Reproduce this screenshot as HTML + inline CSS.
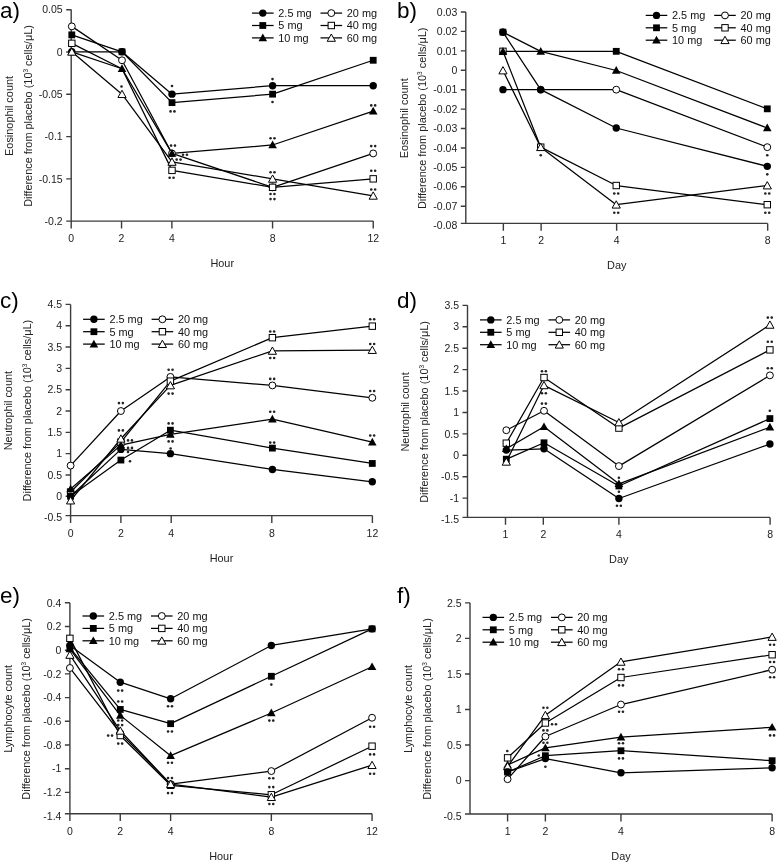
<!DOCTYPE html>
<html><head><meta charset="utf-8"><title>Figure</title>
<style>
html,body{margin:0;padding:0;background:#fff;}
svg{display:block;font-family:"Liberation Sans",sans-serif;will-change:transform;}
</style></head><body>
<svg width="778" height="863" viewBox="0 0 778 863">
<rect width="778" height="863" fill="#fff"/>
<text x="0" y="17.5" text-anchor="start" font-size="22.5">a)</text>
<path d="M71.2 9.6V221.1M66.2 221.1H373.24" fill="none" stroke="#3c3c3c" stroke-width="1.4"/>
<path d="M66.2 9.7H71.2M66.2 52H71.2M66.2 94.3H71.2M66.2 136.6H71.2M66.2 178.9H71.2M71.2 221.1V228.5M121.54 221.1V228.5M171.88 221.1V228.5M272.56 221.1V228.5M373.24 221.1V228.5" fill="none" stroke="#3c3c3c" stroke-width="1.4"/>
<text x="62.7" y="13.4" text-anchor="end" font-size="10.5" fill="#222">0.05</text>
<text x="62.7" y="55.7" text-anchor="end" font-size="10.5" fill="#222">0</text>
<text x="62.7" y="98" text-anchor="end" font-size="10.5" fill="#222">-0.05</text>
<text x="62.7" y="140.3" text-anchor="end" font-size="10.5" fill="#222">-0.1</text>
<text x="62.7" y="182.6" text-anchor="end" font-size="10.5" fill="#222">-0.15</text>
<text x="62.7" y="224.9" text-anchor="end" font-size="10.5" fill="#222">-0.2</text>
<text x="71.2" y="242.1" text-anchor="middle" font-size="10.5" fill="#222">0</text>
<text x="121.54" y="242.1" text-anchor="middle" font-size="10.5" fill="#222">2</text>
<text x="171.88" y="242.1" text-anchor="middle" font-size="10.5" fill="#222">4</text>
<text x="272.56" y="242.1" text-anchor="middle" font-size="10.5" fill="#222">8</text>
<text x="373.24" y="242.1" text-anchor="middle" font-size="10.5" fill="#222">12</text>
<text x="222.22" y="267.1" text-anchor="middle" font-size="10.9" fill="#222">Hour</text>
<text transform="translate(12.9 115.95) rotate(-90)" text-anchor="middle" font-size="10.9" fill="#222">Eosinophil count</text>
<text transform="translate(31.7 115.95) rotate(-90)" text-anchor="middle" font-size="10.9" fill="#222">Difference from placebo (10<tspan font-size="6.5" dy="-4">3</tspan><tspan dy="4"> cells/&#956;L)</tspan></text>
<polyline points="71.8,51.8 122,51.8 172,94.15 272.6,85.68 373.2,85.68" fill="none" stroke="#000" stroke-width="1.25" stroke-linejoin="round"/>
<polyline points="71.8,34.86 122,51.8 172,102.62 272.6,94.15 373.2,60.27" fill="none" stroke="#000" stroke-width="1.25" stroke-linejoin="round"/>
<polyline points="71.8,51.8 122,68.74 172,153.44 272.6,144.97 373.2,111.09" fill="none" stroke="#000" stroke-width="1.25" stroke-linejoin="round"/>
<polyline points="71.8,26.39 122,60.27 172,153.44 272.6,187.32 373.2,153.44" fill="none" stroke="#000" stroke-width="1.25" stroke-linejoin="round"/>
<polyline points="71.8,43.33 122,68.74 172,170.38 272.6,187.32 373.2,178.85" fill="none" stroke="#000" stroke-width="1.25" stroke-linejoin="round"/>
<polyline points="71.8,51.8 122,94.15 172,161.91 272.6,178.85 373.2,195.79" fill="none" stroke="#000" stroke-width="1.25" stroke-linejoin="round"/>
<circle cx="71.8" cy="26.39" r="3.45" fill="#fff" stroke="#000" stroke-width="1"/>
<circle cx="122" cy="60.27" r="3.45" fill="#fff" stroke="#000" stroke-width="1"/>
<circle cx="172" cy="153.44" r="3.45" fill="#fff" stroke="#000" stroke-width="1"/>
<circle cx="272.6" cy="187.32" r="3.45" fill="#fff" stroke="#000" stroke-width="1"/>
<circle cx="373.2" cy="153.44" r="3.45" fill="#fff" stroke="#000" stroke-width="1"/>
<rect x="68.6" y="40.13" width="6.4" height="6.4" fill="#fff" stroke="#000" stroke-width="1"/>
<rect x="168.8" y="167.18" width="6.4" height="6.4" fill="#fff" stroke="#000" stroke-width="1"/>
<rect x="269.4" y="184.12" width="6.4" height="6.4" fill="#fff" stroke="#000" stroke-width="1"/>
<rect x="370" y="175.65" width="6.4" height="6.4" fill="#fff" stroke="#000" stroke-width="1"/>
<circle cx="71.8" cy="51.8" r="3.7" fill="#000"/>
<circle cx="122" cy="51.8" r="3.7" fill="#000"/>
<circle cx="172" cy="94.15" r="3.7" fill="#000"/>
<circle cx="272.6" cy="85.68" r="3.7" fill="#000"/>
<circle cx="373.2" cy="85.68" r="3.7" fill="#000"/>
<rect x="68.4" y="31.46" width="6.8" height="6.8" fill="#000"/>
<rect x="118.6" y="48.4" width="6.8" height="6.8" fill="#000"/>
<rect x="168.6" y="99.22" width="6.8" height="6.8" fill="#000"/>
<rect x="269.2" y="90.75" width="6.8" height="6.8" fill="#000"/>
<rect x="369.8" y="56.87" width="6.8" height="6.8" fill="#000"/>
<polygon points="71.8,47.4 76.1,55.1 67.5,55.1" fill="#000"/>
<polygon points="122,64.34 126.3,72.04 117.7,72.04" fill="#000"/>
<polygon points="172,149.04 176.3,156.74 167.7,156.74" fill="#000"/>
<polygon points="272.6,140.57 276.9,148.27 268.3,148.27" fill="#000"/>
<polygon points="373.2,106.69 377.5,114.39 368.9,114.39" fill="#000"/>
<polygon points="71.8,47.9 75.9,55.2 67.7,55.2" fill="#fff" stroke="#000" stroke-width="1" stroke-linejoin="miter"/>
<polygon points="122,90.25 126.1,97.55 117.9,97.55" fill="#fff" stroke="#000" stroke-width="1" stroke-linejoin="miter"/>
<polygon points="172,158.01 176.1,165.31 167.9,165.31" fill="#fff" stroke="#000" stroke-width="1" stroke-linejoin="miter"/>
<polygon points="272.6,174.95 276.7,182.25 268.5,182.25" fill="#fff" stroke="#000" stroke-width="1" stroke-linejoin="miter"/>
<polygon points="373.2,191.89 377.3,199.19 369.1,199.19" fill="#fff" stroke="#000" stroke-width="1" stroke-linejoin="miter"/>
<circle cx="172" cy="86" r="1.3" fill="#222"/>
<circle cx="170.55" cy="111.4" r="1.3" fill="#222"/>
<circle cx="174.45" cy="111.4" r="1.3" fill="#222"/>
<circle cx="171.05" cy="145.6" r="1.3" fill="#222"/>
<circle cx="174.95" cy="145.6" r="1.3" fill="#222"/>
<circle cx="183.05" cy="154.7" r="1.3" fill="#222"/>
<circle cx="186.95" cy="154.7" r="1.3" fill="#222"/>
<circle cx="176.65" cy="159.6" r="1.3" fill="#222"/>
<circle cx="180.55" cy="159.6" r="1.3" fill="#222"/>
<circle cx="169.65" cy="177.8" r="1.3" fill="#222"/>
<circle cx="173.55" cy="177.8" r="1.3" fill="#222"/>
<circle cx="272.5" cy="79.1" r="1.3" fill="#222"/>
<circle cx="272.5" cy="102" r="1.3" fill="#222"/>
<circle cx="270.55" cy="138.2" r="1.3" fill="#222"/>
<circle cx="274.45" cy="138.2" r="1.3" fill="#222"/>
<circle cx="270.55" cy="172.2" r="1.3" fill="#222"/>
<circle cx="274.45" cy="172.2" r="1.3" fill="#222"/>
<circle cx="270.55" cy="194" r="1.3" fill="#222"/>
<circle cx="274.45" cy="194" r="1.3" fill="#222"/>
<circle cx="270.55" cy="199.1" r="1.3" fill="#222"/>
<circle cx="274.45" cy="199.1" r="1.3" fill="#222"/>
<circle cx="371.25" cy="105.4" r="1.3" fill="#222"/>
<circle cx="375.15" cy="105.4" r="1.3" fill="#222"/>
<circle cx="371.25" cy="146.1" r="1.3" fill="#222"/>
<circle cx="375.15" cy="146.1" r="1.3" fill="#222"/>
<circle cx="371.25" cy="170.7" r="1.3" fill="#222"/>
<circle cx="375.15" cy="170.7" r="1.3" fill="#222"/>
<circle cx="371.25" cy="189.5" r="1.3" fill="#222"/>
<circle cx="375.15" cy="189.5" r="1.3" fill="#222"/>
<circle cx="121.5" cy="86.5" r="1.3" fill="#222"/>
<path d="M252 13.1H273.6" stroke="#000" stroke-width="1.25"/>
<circle cx="262.8" cy="13.1" r="3.7" fill="#000"/>
<text x="278.3" y="17" text-anchor="start" font-size="10.9" fill="#111">2.5 mg</text>
<path d="M252 25.5H273.6" stroke="#000" stroke-width="1.25"/>
<rect x="259.4" y="22.1" width="6.8" height="6.8" fill="#000"/>
<text x="278.3" y="29.4" text-anchor="start" font-size="10.9" fill="#111">5 mg</text>
<path d="M252 37.9H273.6" stroke="#000" stroke-width="1.25"/>
<polygon points="262.8,33.5 267.1,41.2 258.5,41.2" fill="#000"/>
<text x="278.3" y="41.8" text-anchor="start" font-size="10.9" fill="#111">10 mg</text>
<path d="M320.5 13.1H342.1" stroke="#000" stroke-width="1.25"/>
<circle cx="331.3" cy="13.1" r="3.45" fill="#fff" stroke="#000" stroke-width="1"/>
<text x="346.8" y="17" text-anchor="start" font-size="10.9" fill="#111">20 mg</text>
<path d="M320.5 25.5H342.1" stroke="#000" stroke-width="1.25"/>
<rect x="328.1" y="22.3" width="6.4" height="6.4" fill="#fff" stroke="#000" stroke-width="1"/>
<text x="346.8" y="29.4" text-anchor="start" font-size="10.9" fill="#111">40 mg</text>
<path d="M320.5 37.9H342.1" stroke="#000" stroke-width="1.25"/>
<polygon points="331.3,34 335.4,41.3 327.2,41.3" fill="#fff" stroke="#000" stroke-width="1" stroke-linejoin="miter"/>
<text x="346.8" y="41.8" text-anchor="start" font-size="10.9" fill="#111">60 mg</text>
<text x="397" y="18.2" text-anchor="start" font-size="22.5">b)</text>
<path d="M465.8 12V223.4M460.8 223.4H767.68" fill="none" stroke="#3c3c3c" stroke-width="1.4"/>
<path d="M460.8 12H465.8M460.8 31.42H465.8M460.8 50.84H465.8M460.8 70.26H465.8M460.8 89.68H465.8M460.8 109.1H465.8M460.8 128.52H465.8M460.8 147.94H465.8M460.8 167.36H465.8M460.8 186.78H465.8M460.8 206.2H465.8M503.36 223.4V230.8M541.12 223.4V230.8M616.64 223.4V230.8M767.68 223.4V230.8" fill="none" stroke="#3c3c3c" stroke-width="1.4"/>
<text x="457.3" y="15.7" text-anchor="end" font-size="10.5" fill="#222">0.03</text>
<text x="457.3" y="35.12" text-anchor="end" font-size="10.5" fill="#222">0.02</text>
<text x="457.3" y="54.54" text-anchor="end" font-size="10.5" fill="#222">0.01</text>
<text x="457.3" y="73.96" text-anchor="end" font-size="10.5" fill="#222">0</text>
<text x="457.3" y="93.38" text-anchor="end" font-size="10.5" fill="#222">-0.01</text>
<text x="457.3" y="112.8" text-anchor="end" font-size="10.5" fill="#222">-0.02</text>
<text x="457.3" y="132.22" text-anchor="end" font-size="10.5" fill="#222">-0.03</text>
<text x="457.3" y="151.64" text-anchor="end" font-size="10.5" fill="#222">-0.04</text>
<text x="457.3" y="171.06" text-anchor="end" font-size="10.5" fill="#222">-0.05</text>
<text x="457.3" y="190.48" text-anchor="end" font-size="10.5" fill="#222">-0.06</text>
<text x="457.3" y="209.9" text-anchor="end" font-size="10.5" fill="#222">-0.07</text>
<text x="457.3" y="229.32" text-anchor="end" font-size="10.5" fill="#222">-0.08</text>
<text x="503.36" y="244.4" text-anchor="middle" font-size="10.5" fill="#222">1</text>
<text x="541.12" y="244.4" text-anchor="middle" font-size="10.5" fill="#222">2</text>
<text x="616.64" y="244.4" text-anchor="middle" font-size="10.5" fill="#222">4</text>
<text x="767.68" y="244.4" text-anchor="middle" font-size="10.5" fill="#222">8</text>
<text x="616.74" y="269.4" text-anchor="middle" font-size="10.9" fill="#222">Day</text>
<text transform="translate(407.5 118.3) rotate(-90)" text-anchor="middle" font-size="10.9" fill="#222">Eosinophil count</text>
<text transform="translate(426.3 118.3) rotate(-90)" text-anchor="middle" font-size="10.9" fill="#222">Difference from placebo (10<tspan font-size="6.5" dy="-4">3</tspan><tspan dy="4"> cells/&#956;L)</tspan></text>
<polyline points="502.96,89.67 540.72,89.67 616.24,128.01 767.28,166.35" fill="none" stroke="#000" stroke-width="1.25" stroke-linejoin="round"/>
<polyline points="502.96,32.16 540.72,51.33 616.24,51.33 767.28,108.84" fill="none" stroke="#000" stroke-width="1.25" stroke-linejoin="round"/>
<polyline points="502.96,51.33 540.72,51.33 616.24,70.5 767.28,128.01" fill="none" stroke="#000" stroke-width="1.25" stroke-linejoin="round"/>
<polyline points="502.96,32.16 540.72,89.67 616.24,89.67 767.28,147.18" fill="none" stroke="#000" stroke-width="1.25" stroke-linejoin="round"/>
<polyline points="502.96,51.33 540.72,147.18 616.24,185.52 767.28,204.69" fill="none" stroke="#000" stroke-width="1.25" stroke-linejoin="round"/>
<polyline points="502.96,70.5 540.72,147.18 616.24,204.69 767.28,185.52" fill="none" stroke="#000" stroke-width="1.25" stroke-linejoin="round"/>
<circle cx="502.96" cy="32.16" r="3.45" fill="#fff" stroke="#000" stroke-width="1"/>
<circle cx="540.72" cy="89.67" r="3.45" fill="#fff" stroke="#000" stroke-width="1"/>
<circle cx="616.24" cy="89.67" r="3.45" fill="#fff" stroke="#000" stroke-width="1"/>
<circle cx="767.28" cy="147.18" r="3.45" fill="#fff" stroke="#000" stroke-width="1"/>
<rect x="499.76" y="48.13" width="6.4" height="6.4" fill="#fff" stroke="#000" stroke-width="1"/>
<rect x="537.52" y="143.98" width="6.4" height="6.4" fill="#fff" stroke="#000" stroke-width="1"/>
<rect x="613.04" y="182.32" width="6.4" height="6.4" fill="#fff" stroke="#000" stroke-width="1"/>
<rect x="764.08" y="201.49" width="6.4" height="6.4" fill="#fff" stroke="#000" stroke-width="1"/>
<circle cx="502.96" cy="89.67" r="3.7" fill="#000"/>
<circle cx="540.72" cy="89.67" r="3.7" fill="#000"/>
<circle cx="616.24" cy="128.01" r="3.7" fill="#000"/>
<circle cx="767.28" cy="166.35" r="3.7" fill="#000"/>
<rect x="499.56" y="28.76" width="6.8" height="6.8" fill="#000"/>
<rect x="612.84" y="47.93" width="6.8" height="6.8" fill="#000"/>
<rect x="763.88" y="105.44" width="6.8" height="6.8" fill="#000"/>
<polygon points="502.96,46.93 507.26,54.63 498.66,54.63" fill="#000"/>
<polygon points="540.72,46.93 545.02,54.63 536.42,54.63" fill="#000"/>
<polygon points="616.24,66.1 620.54,73.8 611.94,73.8" fill="#000"/>
<polygon points="767.28,123.61 771.58,131.31 762.98,131.31" fill="#000"/>
<polygon points="502.96,66.6 507.06,73.9 498.86,73.9" fill="#fff" stroke="#000" stroke-width="1" stroke-linejoin="miter"/>
<polygon points="540.72,143.28 544.82,150.58 536.62,150.58" fill="#fff" stroke="#000" stroke-width="1" stroke-linejoin="miter"/>
<polygon points="616.24,200.79 620.34,208.09 612.14,208.09" fill="#fff" stroke="#000" stroke-width="1" stroke-linejoin="miter"/>
<polygon points="767.28,181.62 771.38,188.92 763.18,188.92" fill="#fff" stroke="#000" stroke-width="1" stroke-linejoin="miter"/>
<circle cx="540.72" cy="155.18" r="1.3" fill="#222"/>
<circle cx="614.29" cy="193.52" r="1.3" fill="#222"/>
<circle cx="618.19" cy="193.52" r="1.3" fill="#222"/>
<circle cx="614.29" cy="212.69" r="1.3" fill="#222"/>
<circle cx="618.19" cy="212.69" r="1.3" fill="#222"/>
<circle cx="767.28" cy="155.18" r="1.3" fill="#222"/>
<circle cx="767.28" cy="174.35" r="1.3" fill="#222"/>
<circle cx="765.33" cy="193.52" r="1.3" fill="#222"/>
<circle cx="769.23" cy="193.52" r="1.3" fill="#222"/>
<circle cx="765.33" cy="212.69" r="1.3" fill="#222"/>
<circle cx="769.23" cy="212.69" r="1.3" fill="#222"/>
<path d="M645.7 15.4H667.3" stroke="#000" stroke-width="1.25"/>
<circle cx="656.5" cy="15.4" r="3.7" fill="#000"/>
<text x="672" y="19.3" text-anchor="start" font-size="10.9" fill="#111">2.5 mg</text>
<path d="M645.7 27.8H667.3" stroke="#000" stroke-width="1.25"/>
<rect x="653.1" y="24.4" width="6.8" height="6.8" fill="#000"/>
<text x="672" y="31.7" text-anchor="start" font-size="10.9" fill="#111">5 mg</text>
<path d="M645.7 40.2H667.3" stroke="#000" stroke-width="1.25"/>
<polygon points="656.5,35.8 660.8,43.5 652.2,43.5" fill="#000"/>
<text x="672" y="44.1" text-anchor="start" font-size="10.9" fill="#111">10 mg</text>
<path d="M714.2 15.4H735.8" stroke="#000" stroke-width="1.25"/>
<circle cx="725" cy="15.4" r="3.45" fill="#fff" stroke="#000" stroke-width="1"/>
<text x="740.5" y="19.3" text-anchor="start" font-size="10.9" fill="#111">20 mg</text>
<path d="M714.2 27.8H735.8" stroke="#000" stroke-width="1.25"/>
<rect x="721.8" y="24.6" width="6.4" height="6.4" fill="#fff" stroke="#000" stroke-width="1"/>
<text x="740.5" y="31.7" text-anchor="start" font-size="10.9" fill="#111">40 mg</text>
<path d="M714.2 40.2H735.8" stroke="#000" stroke-width="1.25"/>
<polygon points="725,36.3 729.1,43.6 720.9,43.6" fill="#fff" stroke="#000" stroke-width="1" stroke-linejoin="miter"/>
<text x="740.5" y="44.1" text-anchor="start" font-size="10.9" fill="#111">60 mg</text>
<text x="0" y="308" text-anchor="start" font-size="22.5">c)</text>
<path d="M70.6 304.4V515.6M65.6 515.6H372.4" fill="none" stroke="#3c3c3c" stroke-width="1.4"/>
<path d="M65.6 304.42H70.6M65.6 325.74H70.6M65.6 347.06H70.6M65.6 368.38H70.6M65.6 389.7H70.6M65.6 411.02H70.6M65.6 432.34H70.6M65.6 453.66H70.6M65.6 474.98H70.6M65.6 496.3H70.6M70.6 515.6V523M120.9 515.6V523M171.2 515.6V523M271.8 515.6V523M372.4 515.6V523" fill="none" stroke="#3c3c3c" stroke-width="1.4"/>
<text x="62.1" y="308.12" text-anchor="end" font-size="10.5" fill="#222">4.5</text>
<text x="62.1" y="329.44" text-anchor="end" font-size="10.5" fill="#222">4</text>
<text x="62.1" y="350.76" text-anchor="end" font-size="10.5" fill="#222">3.5</text>
<text x="62.1" y="372.08" text-anchor="end" font-size="10.5" fill="#222">3</text>
<text x="62.1" y="393.4" text-anchor="end" font-size="10.5" fill="#222">2.5</text>
<text x="62.1" y="414.72" text-anchor="end" font-size="10.5" fill="#222">2</text>
<text x="62.1" y="436.04" text-anchor="end" font-size="10.5" fill="#222">1.5</text>
<text x="62.1" y="457.36" text-anchor="end" font-size="10.5" fill="#222">1</text>
<text x="62.1" y="478.68" text-anchor="end" font-size="10.5" fill="#222">0.5</text>
<text x="62.1" y="500" text-anchor="end" font-size="10.5" fill="#222">0</text>
<text x="62.1" y="521.32" text-anchor="end" font-size="10.5" fill="#222">-0.5</text>
<text x="70.6" y="536.6" text-anchor="middle" font-size="10.5" fill="#222">0</text>
<text x="120.9" y="536.6" text-anchor="middle" font-size="10.5" fill="#222">2</text>
<text x="171.2" y="536.6" text-anchor="middle" font-size="10.5" fill="#222">4</text>
<text x="271.8" y="536.6" text-anchor="middle" font-size="10.5" fill="#222">8</text>
<text x="372.4" y="536.6" text-anchor="middle" font-size="10.5" fill="#222">12</text>
<text x="221.5" y="561.6" text-anchor="middle" font-size="10.9" fill="#222">Hour</text>
<text transform="translate(12.3 410.6) rotate(-90)" text-anchor="middle" font-size="10.9" fill="#222">Neutrophil count</text>
<text transform="translate(31.1 410.6) rotate(-90)" text-anchor="middle" font-size="10.9" fill="#222">Difference from placebo (10<tspan font-size="6.5" dy="-4">3</tspan><tspan dy="4"> cells/&#956;L)</tspan></text>
<polyline points="70.6,496.3 120.9,449.4 170.4,453.66 272.4,469.44 372.3,481.8" fill="none" stroke="#000" stroke-width="1.25" stroke-linejoin="round"/>
<polyline points="70.6,496.3 120.9,460.06 170.4,430.21 272.4,448.12 372.3,463.47" fill="none" stroke="#000" stroke-width="1.25" stroke-linejoin="round"/>
<polyline points="70.6,489.05 120.9,445.13 170.4,434.47 272.4,419.12 372.3,442.15" fill="none" stroke="#000" stroke-width="1.25" stroke-linejoin="round"/>
<polyline points="70.6,465.6 120.9,411.02 170.4,376.91 272.4,385.44 372.3,397.8" fill="none" stroke="#000" stroke-width="1.25" stroke-linejoin="round"/>
<polyline points="70.6,492.04 120.9,442.15 170.4,381.17 272.4,337.68 372.3,326.17" fill="none" stroke="#000" stroke-width="1.25" stroke-linejoin="round"/>
<polyline points="70.6,500.56 120.9,438.74 170.4,385.44 272.4,350.9 372.3,350.04" fill="none" stroke="#000" stroke-width="1.25" stroke-linejoin="round"/>
<circle cx="70.6" cy="465.6" r="3.45" fill="#fff" stroke="#000" stroke-width="1"/>
<circle cx="120.9" cy="411.02" r="3.45" fill="#fff" stroke="#000" stroke-width="1"/>
<circle cx="170.4" cy="376.91" r="3.45" fill="#fff" stroke="#000" stroke-width="1"/>
<circle cx="272.4" cy="385.44" r="3.45" fill="#fff" stroke="#000" stroke-width="1"/>
<circle cx="372.3" cy="397.8" r="3.45" fill="#fff" stroke="#000" stroke-width="1"/>
<rect x="67.4" y="488.84" width="6.4" height="6.4" fill="#fff" stroke="#000" stroke-width="1"/>
<rect x="117.7" y="438.95" width="6.4" height="6.4" fill="#fff" stroke="#000" stroke-width="1"/>
<rect x="167.2" y="377.97" width="6.4" height="6.4" fill="#fff" stroke="#000" stroke-width="1"/>
<rect x="269.2" y="334.48" width="6.4" height="6.4" fill="#fff" stroke="#000" stroke-width="1"/>
<rect x="369.1" y="322.97" width="6.4" height="6.4" fill="#fff" stroke="#000" stroke-width="1"/>
<polygon points="70.6,484.65 74.9,492.35 66.3,492.35" fill="#000"/>
<polygon points="120.9,440.73 125.2,448.43 116.6,448.43" fill="#000"/>
<polygon points="170.4,430.07 174.7,437.77 166.1,437.77" fill="#000"/>
<polygon points="272.4,414.72 276.7,422.42 268.1,422.42" fill="#000"/>
<polygon points="372.3,437.75 376.6,445.45 368,445.45" fill="#000"/>
<circle cx="70.6" cy="496.3" r="3.7" fill="#000"/>
<circle cx="120.9" cy="449.4" r="3.7" fill="#000"/>
<circle cx="170.4" cy="453.66" r="3.7" fill="#000"/>
<circle cx="272.4" cy="469.44" r="3.7" fill="#000"/>
<circle cx="372.3" cy="481.8" r="3.7" fill="#000"/>
<rect x="67.2" y="492.9" width="6.8" height="6.8" fill="#000"/>
<rect x="117.5" y="456.66" width="6.8" height="6.8" fill="#000"/>
<rect x="167" y="426.81" width="6.8" height="6.8" fill="#000"/>
<rect x="269" y="444.72" width="6.8" height="6.8" fill="#000"/>
<rect x="368.9" y="460.07" width="6.8" height="6.8" fill="#000"/>
<polygon points="70.6,496.66 74.7,503.96 66.5,503.96" fill="#fff" stroke="#000" stroke-width="1" stroke-linejoin="miter"/>
<polygon points="120.9,434.84 125,442.14 116.8,442.14" fill="#fff" stroke="#000" stroke-width="1" stroke-linejoin="miter"/>
<polygon points="170.4,381.54 174.5,388.84 166.3,388.84" fill="#fff" stroke="#000" stroke-width="1" stroke-linejoin="miter"/>
<polygon points="272.4,347 276.5,354.3 268.3,354.3" fill="#fff" stroke="#000" stroke-width="1" stroke-linejoin="miter"/>
<polygon points="372.3,346.14 376.4,353.44 368.2,353.44" fill="#fff" stroke="#000" stroke-width="1" stroke-linejoin="miter"/>
<circle cx="118.95" cy="403.1" r="1.3" fill="#222"/>
<circle cx="122.85" cy="403.1" r="1.3" fill="#222"/>
<circle cx="118.95" cy="430.4" r="1.3" fill="#222"/>
<circle cx="122.85" cy="430.4" r="1.3" fill="#222"/>
<circle cx="128.05" cy="440.4" r="1.3" fill="#222"/>
<circle cx="131.95" cy="440.4" r="1.3" fill="#222"/>
<circle cx="128.05" cy="447.9" r="1.3" fill="#222"/>
<circle cx="131.95" cy="447.9" r="1.3" fill="#222"/>
<circle cx="128" cy="452" r="1.3" fill="#222"/>
<circle cx="130" cy="461.3" r="1.3" fill="#222"/>
<circle cx="168.65" cy="369.8" r="1.3" fill="#222"/>
<circle cx="172.55" cy="369.8" r="1.3" fill="#222"/>
<circle cx="168.65" cy="393.6" r="1.3" fill="#222"/>
<circle cx="172.55" cy="393.6" r="1.3" fill="#222"/>
<circle cx="168.65" cy="423.4" r="1.3" fill="#222"/>
<circle cx="172.55" cy="423.4" r="1.3" fill="#222"/>
<circle cx="168.65" cy="441.4" r="1.3" fill="#222"/>
<circle cx="172.55" cy="441.4" r="1.3" fill="#222"/>
<circle cx="170.6" cy="448.5" r="1.3" fill="#222"/>
<circle cx="270.25" cy="331.5" r="1.3" fill="#222"/>
<circle cx="274.15" cy="331.5" r="1.3" fill="#222"/>
<circle cx="270.25" cy="358" r="1.3" fill="#222"/>
<circle cx="274.15" cy="358" r="1.3" fill="#222"/>
<circle cx="270.25" cy="378.9" r="1.3" fill="#222"/>
<circle cx="274.15" cy="378.9" r="1.3" fill="#222"/>
<circle cx="270.25" cy="411.7" r="1.3" fill="#222"/>
<circle cx="274.15" cy="411.7" r="1.3" fill="#222"/>
<circle cx="270.25" cy="442.6" r="1.3" fill="#222"/>
<circle cx="274.15" cy="442.6" r="1.3" fill="#222"/>
<circle cx="370.25" cy="319.3" r="1.3" fill="#222"/>
<circle cx="374.15" cy="319.3" r="1.3" fill="#222"/>
<circle cx="370.25" cy="344" r="1.3" fill="#222"/>
<circle cx="374.15" cy="344" r="1.3" fill="#222"/>
<circle cx="370.25" cy="391" r="1.3" fill="#222"/>
<circle cx="374.15" cy="391" r="1.3" fill="#222"/>
<circle cx="370.25" cy="435.5" r="1.3" fill="#222"/>
<circle cx="374.15" cy="435.5" r="1.3" fill="#222"/>
<path d="M83.1 319.3H104.7" stroke="#000" stroke-width="1.25"/>
<circle cx="93.9" cy="319.3" r="3.7" fill="#000"/>
<text x="109.4" y="323.2" text-anchor="start" font-size="10.9" fill="#111">2.5 mg</text>
<path d="M83.1 331.7H104.7" stroke="#000" stroke-width="1.25"/>
<rect x="90.5" y="328.3" width="6.8" height="6.8" fill="#000"/>
<text x="109.4" y="335.6" text-anchor="start" font-size="10.9" fill="#111">5 mg</text>
<path d="M83.1 344.1H104.7" stroke="#000" stroke-width="1.25"/>
<polygon points="93.9,339.7 98.2,347.4 89.6,347.4" fill="#000"/>
<text x="109.4" y="348" text-anchor="start" font-size="10.9" fill="#111">10 mg</text>
<path d="M151.6 319.3H173.2" stroke="#000" stroke-width="1.25"/>
<circle cx="162.4" cy="319.3" r="3.45" fill="#fff" stroke="#000" stroke-width="1"/>
<text x="177.9" y="323.2" text-anchor="start" font-size="10.9" fill="#111">20 mg</text>
<path d="M151.6 331.7H173.2" stroke="#000" stroke-width="1.25"/>
<rect x="159.2" y="328.5" width="6.4" height="6.4" fill="#fff" stroke="#000" stroke-width="1"/>
<text x="177.9" y="335.6" text-anchor="start" font-size="10.9" fill="#111">40 mg</text>
<path d="M151.6 344.1H173.2" stroke="#000" stroke-width="1.25"/>
<polygon points="162.4,340.2 166.5,347.5 158.3,347.5" fill="#fff" stroke="#000" stroke-width="1" stroke-linejoin="miter"/>
<text x="177.9" y="348" text-anchor="start" font-size="10.9" fill="#111">60 mg</text>
<text x="397" y="308.2" text-anchor="start" font-size="22.5">d)</text>
<path d="M467.5 305.3V517.4M462.5 517.4H770.1" fill="none" stroke="#3c3c3c" stroke-width="1.4"/>
<path d="M462.5 305.33H467.5M462.5 326.75H467.5M462.5 348.18H467.5M462.5 369.6H467.5M462.5 391.02H467.5M462.5 412.45H467.5M462.5 433.88H467.5M462.5 455.3H467.5M462.5 476.73H467.5M462.5 498.15H467.5M505.5 517.4V524.8M543.3 517.4V524.8M618.9 517.4V524.8M770.1 517.4V524.8" fill="none" stroke="#3c3c3c" stroke-width="1.4"/>
<text x="459" y="309.03" text-anchor="end" font-size="10.5" fill="#222">3.5</text>
<text x="459" y="330.45" text-anchor="end" font-size="10.5" fill="#222">3</text>
<text x="459" y="351.88" text-anchor="end" font-size="10.5" fill="#222">2.5</text>
<text x="459" y="373.3" text-anchor="end" font-size="10.5" fill="#222">2</text>
<text x="459" y="394.72" text-anchor="end" font-size="10.5" fill="#222">1.5</text>
<text x="459" y="416.15" text-anchor="end" font-size="10.5" fill="#222">1</text>
<text x="459" y="437.57" text-anchor="end" font-size="10.5" fill="#222">0.5</text>
<text x="459" y="459" text-anchor="end" font-size="10.5" fill="#222">0</text>
<text x="459" y="480.43" text-anchor="end" font-size="10.5" fill="#222">-0.5</text>
<text x="459" y="501.85" text-anchor="end" font-size="10.5" fill="#222">-1</text>
<text x="459" y="523.28" text-anchor="end" font-size="10.5" fill="#222">-1.5</text>
<text x="505.5" y="538.4" text-anchor="middle" font-size="10.5" fill="#222">1</text>
<text x="543.3" y="538.4" text-anchor="middle" font-size="10.5" fill="#222">2</text>
<text x="618.9" y="538.4" text-anchor="middle" font-size="10.5" fill="#222">4</text>
<text x="770.1" y="538.4" text-anchor="middle" font-size="10.5" fill="#222">8</text>
<text x="618.8" y="563.4" text-anchor="middle" font-size="10.9" fill="#222">Day</text>
<text transform="translate(409.2 411.95) rotate(-90)" text-anchor="middle" font-size="10.9" fill="#222">Neutrophil count</text>
<text transform="translate(428 411.95) rotate(-90)" text-anchor="middle" font-size="10.9" fill="#222">Difference from placebo (10<tspan font-size="6.5" dy="-4">3</tspan><tspan dy="4"> cells/&#956;L)</tspan></text>
<polyline points="506.3,450.12 544,448.82 618.9,498.5 769.9,444.07" fill="none" stroke="#000" stroke-width="1.25" stroke-linejoin="round"/>
<polyline points="506.3,459.19 544,442.77 618.9,485.97 769.9,418.58" fill="none" stroke="#000" stroke-width="1.25" stroke-linejoin="round"/>
<polyline points="506.3,448.82 544,426.79 618.9,483.81 769.9,427.22" fill="none" stroke="#000" stroke-width="1.25" stroke-linejoin="round"/>
<polyline points="506.3,430.24 544,410.8 618.9,466.1 769.9,375.38" fill="none" stroke="#000" stroke-width="1.25" stroke-linejoin="round"/>
<polyline points="506.3,443.2 544,377.54 618.9,428.08 769.9,349.89" fill="none" stroke="#000" stroke-width="1.25" stroke-linejoin="round"/>
<polyline points="506.3,461.78 544,385.32 618.9,422.47 769.9,324.84" fill="none" stroke="#000" stroke-width="1.25" stroke-linejoin="round"/>
<circle cx="506.3" cy="430.24" r="3.45" fill="#fff" stroke="#000" stroke-width="1"/>
<circle cx="544" cy="410.8" r="3.45" fill="#fff" stroke="#000" stroke-width="1"/>
<circle cx="618.9" cy="466.1" r="3.45" fill="#fff" stroke="#000" stroke-width="1"/>
<circle cx="769.9" cy="375.38" r="3.45" fill="#fff" stroke="#000" stroke-width="1"/>
<rect x="503.1" y="440" width="6.4" height="6.4" fill="#fff" stroke="#000" stroke-width="1"/>
<rect x="540.8" y="374.34" width="6.4" height="6.4" fill="#fff" stroke="#000" stroke-width="1"/>
<rect x="615.7" y="424.88" width="6.4" height="6.4" fill="#fff" stroke="#000" stroke-width="1"/>
<rect x="766.7" y="346.69" width="6.4" height="6.4" fill="#fff" stroke="#000" stroke-width="1"/>
<polygon points="506.3,444.42 510.6,452.12 502,452.12" fill="#000"/>
<polygon points="544,422.39 548.3,430.09 539.7,430.09" fill="#000"/>
<polygon points="618.9,479.41 623.2,487.11 614.6,487.11" fill="#000"/>
<polygon points="769.9,422.82 774.2,430.52 765.6,430.52" fill="#000"/>
<circle cx="506.3" cy="450.12" r="3.7" fill="#000"/>
<circle cx="544" cy="448.82" r="3.7" fill="#000"/>
<circle cx="618.9" cy="498.5" r="3.7" fill="#000"/>
<circle cx="769.9" cy="444.07" r="3.7" fill="#000"/>
<rect x="502.9" y="455.79" width="6.8" height="6.8" fill="#000"/>
<rect x="540.6" y="439.37" width="6.8" height="6.8" fill="#000"/>
<rect x="615.5" y="482.57" width="6.8" height="6.8" fill="#000"/>
<rect x="766.5" y="415.18" width="6.8" height="6.8" fill="#000"/>
<polygon points="506.3,457.88 510.4,465.18 502.2,465.18" fill="#fff" stroke="#000" stroke-width="1" stroke-linejoin="miter"/>
<polygon points="544,381.42 548.1,388.72 539.9,388.72" fill="#fff" stroke="#000" stroke-width="1" stroke-linejoin="miter"/>
<polygon points="618.9,418.57 623,425.87 614.8,425.87" fill="#fff" stroke="#000" stroke-width="1" stroke-linejoin="miter"/>
<polygon points="769.9,320.94 774,328.24 765.8,328.24" fill="#fff" stroke="#000" stroke-width="1" stroke-linejoin="miter"/>
<circle cx="541.95" cy="371.2" r="1.3" fill="#222"/>
<circle cx="545.85" cy="371.2" r="1.3" fill="#222"/>
<circle cx="541.95" cy="393.2" r="1.3" fill="#222"/>
<circle cx="545.85" cy="393.2" r="1.3" fill="#222"/>
<circle cx="541.95" cy="403.6" r="1.3" fill="#222"/>
<circle cx="545.85" cy="403.6" r="1.3" fill="#222"/>
<circle cx="618.9" cy="477.7" r="1.3" fill="#222"/>
<circle cx="618.9" cy="491.7" r="1.3" fill="#222"/>
<circle cx="616.95" cy="505.7" r="1.3" fill="#222"/>
<circle cx="620.85" cy="505.7" r="1.3" fill="#222"/>
<circle cx="767.85" cy="317.6" r="1.3" fill="#222"/>
<circle cx="771.75" cy="317.6" r="1.3" fill="#222"/>
<circle cx="767.85" cy="341.7" r="1.3" fill="#222"/>
<circle cx="771.75" cy="341.7" r="1.3" fill="#222"/>
<circle cx="767.85" cy="368.2" r="1.3" fill="#222"/>
<circle cx="771.75" cy="368.2" r="1.3" fill="#222"/>
<circle cx="769.8" cy="410.8" r="1.3" fill="#222"/>
<path d="M480 319.9H501.6" stroke="#000" stroke-width="1.25"/>
<circle cx="490.8" cy="319.9" r="3.7" fill="#000"/>
<text x="506.3" y="323.8" text-anchor="start" font-size="10.9" fill="#111">2.5 mg</text>
<path d="M480 332.3H501.6" stroke="#000" stroke-width="1.25"/>
<rect x="487.4" y="328.9" width="6.8" height="6.8" fill="#000"/>
<text x="506.3" y="336.2" text-anchor="start" font-size="10.9" fill="#111">5 mg</text>
<path d="M480 344.7H501.6" stroke="#000" stroke-width="1.25"/>
<polygon points="490.8,340.3 495.1,348 486.5,348" fill="#000"/>
<text x="506.3" y="348.6" text-anchor="start" font-size="10.9" fill="#111">10 mg</text>
<path d="M548.5 319.9H570.1" stroke="#000" stroke-width="1.25"/>
<circle cx="559.3" cy="319.9" r="3.45" fill="#fff" stroke="#000" stroke-width="1"/>
<text x="574.8" y="323.8" text-anchor="start" font-size="10.9" fill="#111">20 mg</text>
<path d="M548.5 332.3H570.1" stroke="#000" stroke-width="1.25"/>
<rect x="556.1" y="329.1" width="6.4" height="6.4" fill="#fff" stroke="#000" stroke-width="1"/>
<text x="574.8" y="336.2" text-anchor="start" font-size="10.9" fill="#111">40 mg</text>
<path d="M548.5 344.7H570.1" stroke="#000" stroke-width="1.25"/>
<polygon points="559.3,340.8 563.4,348.1 555.2,348.1" fill="#fff" stroke="#000" stroke-width="1" stroke-linejoin="miter"/>
<text x="574.8" y="348.6" text-anchor="start" font-size="10.9" fill="#111">60 mg</text>
<text x="0" y="603" text-anchor="start" font-size="22.5">e)</text>
<path d="M69.9 602.8V813.7M64.9 813.7H372.06" fill="none" stroke="#3c3c3c" stroke-width="1.4"/>
<path d="M64.9 602.8H69.9M64.9 626.5H69.9M64.9 650.2H69.9M64.9 673.9H69.9M64.9 697.6H69.9M64.9 721.3H69.9M64.9 745H69.9M64.9 768.7H69.9M64.9 792.4H69.9M69.9 813.7V821.1M120.26 813.7V821.1M170.62 813.7V821.1M271.34 813.7V821.1M372.06 813.7V821.1" fill="none" stroke="#3c3c3c" stroke-width="1.4"/>
<text x="61.4" y="606.5" text-anchor="end" font-size="10.5" fill="#222">0.4</text>
<text x="61.4" y="630.2" text-anchor="end" font-size="10.5" fill="#222">0.2</text>
<text x="61.4" y="653.9" text-anchor="end" font-size="10.5" fill="#222">0</text>
<text x="61.4" y="677.6" text-anchor="end" font-size="10.5" fill="#222">-0.2</text>
<text x="61.4" y="701.3" text-anchor="end" font-size="10.5" fill="#222">-0.4</text>
<text x="61.4" y="725" text-anchor="end" font-size="10.5" fill="#222">-0.6</text>
<text x="61.4" y="748.7" text-anchor="end" font-size="10.5" fill="#222">-0.8</text>
<text x="61.4" y="772.4" text-anchor="end" font-size="10.5" fill="#222">-1</text>
<text x="61.4" y="796.1" text-anchor="end" font-size="10.5" fill="#222">-1.2</text>
<text x="61.4" y="819.8" text-anchor="end" font-size="10.5" fill="#222">-1.4</text>
<text x="69.9" y="834.7" text-anchor="middle" font-size="10.5" fill="#222">0</text>
<text x="120.26" y="834.7" text-anchor="middle" font-size="10.5" fill="#222">2</text>
<text x="170.62" y="834.7" text-anchor="middle" font-size="10.5" fill="#222">4</text>
<text x="271.34" y="834.7" text-anchor="middle" font-size="10.5" fill="#222">8</text>
<text x="372.06" y="834.7" text-anchor="middle" font-size="10.5" fill="#222">12</text>
<text x="220.98" y="859.7" text-anchor="middle" font-size="10.9" fill="#222">Hour</text>
<text transform="translate(11.6 708.85) rotate(-90)" text-anchor="middle" font-size="10.9" fill="#222">Lymphocyte count</text>
<text transform="translate(30.4 708.85) rotate(-90)" text-anchor="middle" font-size="10.9" fill="#222">Difference from placebo (10<tspan font-size="6.5" dy="-4">3</tspan><tspan dy="4"> cells/&#956;L)</tspan></text>
<polyline points="69.9,645.46 120.26,682.2 170.62,698.79 271.34,645.46 372.06,628.87" fill="none" stroke="#000" stroke-width="1.25" stroke-linejoin="round"/>
<polyline points="69.9,647.83 120.26,709.45 170.62,723.67 271.34,676.27 372.06,628.87" fill="none" stroke="#000" stroke-width="1.25" stroke-linejoin="round"/>
<polyline points="69.9,649.02 120.26,715.38 170.62,755.67 271.34,713 372.06,666.79" fill="none" stroke="#000" stroke-width="1.25" stroke-linejoin="round"/>
<polyline points="69.9,667.98 120.26,733.15 170.62,784.11 271.34,771.07 372.06,717.75" fill="none" stroke="#000" stroke-width="1.25" stroke-linejoin="round"/>
<polyline points="69.9,638.35 120.26,735.52 170.62,785.29 271.34,794.77 372.06,746.19" fill="none" stroke="#000" stroke-width="1.25" stroke-linejoin="round"/>
<polyline points="69.9,654.94 120.26,730.78 170.62,784.11 271.34,797.14 372.06,765.14" fill="none" stroke="#000" stroke-width="1.25" stroke-linejoin="round"/>
<circle cx="69.9" cy="667.98" r="3.45" fill="#fff" stroke="#000" stroke-width="1"/>
<circle cx="120.26" cy="733.15" r="3.45" fill="#fff" stroke="#000" stroke-width="1"/>
<circle cx="170.62" cy="784.11" r="3.45" fill="#fff" stroke="#000" stroke-width="1"/>
<circle cx="271.34" cy="771.07" r="3.45" fill="#fff" stroke="#000" stroke-width="1"/>
<circle cx="372.06" cy="717.75" r="3.45" fill="#fff" stroke="#000" stroke-width="1"/>
<rect x="66.7" y="635.15" width="6.4" height="6.4" fill="#fff" stroke="#000" stroke-width="1"/>
<rect x="117.06" y="732.32" width="6.4" height="6.4" fill="#fff" stroke="#000" stroke-width="1"/>
<rect x="167.42" y="782.09" width="6.4" height="6.4" fill="#fff" stroke="#000" stroke-width="1"/>
<rect x="268.14" y="791.57" width="6.4" height="6.4" fill="#fff" stroke="#000" stroke-width="1"/>
<rect x="368.86" y="742.99" width="6.4" height="6.4" fill="#fff" stroke="#000" stroke-width="1"/>
<polygon points="69.9,651.04 74,658.34 65.8,658.34" fill="#fff" stroke="#000" stroke-width="1" stroke-linejoin="miter"/>
<polygon points="120.26,726.88 124.36,734.18 116.16,734.18" fill="#fff" stroke="#000" stroke-width="1" stroke-linejoin="miter"/>
<polygon points="170.62,780.21 174.72,787.5 166.52,787.5" fill="#fff" stroke="#000" stroke-width="1" stroke-linejoin="miter"/>
<polygon points="271.34,793.24 275.44,800.54 267.24,800.54" fill="#fff" stroke="#000" stroke-width="1" stroke-linejoin="miter"/>
<polygon points="372.06,761.25 376.16,768.54 367.96,768.54" fill="#fff" stroke="#000" stroke-width="1" stroke-linejoin="miter"/>
<polygon points="69.9,644.62 74.2,652.32 65.6,652.32" fill="#000"/>
<polygon points="120.26,710.98 124.56,718.67 115.96,718.67" fill="#000"/>
<polygon points="170.62,751.27 174.92,758.97 166.32,758.97" fill="#000"/>
<polygon points="271.34,708.61 275.64,716.3 267.04,716.3" fill="#000"/>
<polygon points="372.06,662.39 376.36,670.09 367.76,670.09" fill="#000"/>
<rect x="66.5" y="644.43" width="6.8" height="6.8" fill="#000"/>
<rect x="116.86" y="706.05" width="6.8" height="6.8" fill="#000"/>
<rect x="167.22" y="720.27" width="6.8" height="6.8" fill="#000"/>
<rect x="267.94" y="672.87" width="6.8" height="6.8" fill="#000"/>
<rect x="368.66" y="625.47" width="6.8" height="6.8" fill="#000"/>
<circle cx="69.9" cy="645.46" r="3.7" fill="#000"/>
<circle cx="120.26" cy="682.2" r="3.7" fill="#000"/>
<circle cx="170.62" cy="698.79" r="3.7" fill="#000"/>
<circle cx="271.34" cy="645.46" r="3.7" fill="#000"/>
<circle cx="372.06" cy="628.87" r="3.7" fill="#000"/>
<circle cx="118.25" cy="690.6" r="1.3" fill="#222"/>
<circle cx="122.15" cy="690.6" r="1.3" fill="#222"/>
<circle cx="118.25" cy="701.5" r="1.3" fill="#222"/>
<circle cx="122.15" cy="701.5" r="1.3" fill="#222"/>
<circle cx="118.25" cy="720.5" r="1.3" fill="#222"/>
<circle cx="122.15" cy="720.5" r="1.3" fill="#222"/>
<circle cx="118.25" cy="725.1" r="1.3" fill="#222"/>
<circle cx="122.15" cy="725.1" r="1.3" fill="#222"/>
<circle cx="108.15" cy="735.6" r="1.3" fill="#222"/>
<circle cx="112.05" cy="735.6" r="1.3" fill="#222"/>
<circle cx="118.25" cy="743.6" r="1.3" fill="#222"/>
<circle cx="122.15" cy="743.6" r="1.3" fill="#222"/>
<circle cx="168.05" cy="706.2" r="1.3" fill="#222"/>
<circle cx="171.95" cy="706.2" r="1.3" fill="#222"/>
<circle cx="168.05" cy="731.5" r="1.3" fill="#222"/>
<circle cx="171.95" cy="731.5" r="1.3" fill="#222"/>
<circle cx="168.05" cy="762.7" r="1.3" fill="#222"/>
<circle cx="171.95" cy="762.7" r="1.3" fill="#222"/>
<circle cx="168.05" cy="778" r="1.3" fill="#222"/>
<circle cx="171.95" cy="778" r="1.3" fill="#222"/>
<circle cx="168.05" cy="793.1" r="1.3" fill="#222"/>
<circle cx="171.95" cy="793.1" r="1.3" fill="#222"/>
<circle cx="271.3" cy="684.6" r="1.3" fill="#222"/>
<circle cx="269.35" cy="720.6" r="1.3" fill="#222"/>
<circle cx="273.25" cy="720.6" r="1.3" fill="#222"/>
<circle cx="269.35" cy="778.2" r="1.3" fill="#222"/>
<circle cx="273.25" cy="778.2" r="1.3" fill="#222"/>
<circle cx="269.35" cy="787.1" r="1.3" fill="#222"/>
<circle cx="273.25" cy="787.1" r="1.3" fill="#222"/>
<circle cx="269.35" cy="804" r="1.3" fill="#222"/>
<circle cx="273.25" cy="804" r="1.3" fill="#222"/>
<circle cx="370.15" cy="726.7" r="1.3" fill="#222"/>
<circle cx="374.05" cy="726.7" r="1.3" fill="#222"/>
<circle cx="370.15" cy="754.4" r="1.3" fill="#222"/>
<circle cx="374.05" cy="754.4" r="1.3" fill="#222"/>
<circle cx="370.15" cy="773.8" r="1.3" fill="#222"/>
<circle cx="374.05" cy="773.8" r="1.3" fill="#222"/>
<path d="M82.5 616H104.1" stroke="#000" stroke-width="1.25"/>
<circle cx="93.3" cy="616" r="3.7" fill="#000"/>
<text x="108.8" y="619.9" text-anchor="start" font-size="10.9" fill="#111">2.5 mg</text>
<path d="M82.5 628.4H104.1" stroke="#000" stroke-width="1.25"/>
<rect x="89.9" y="625" width="6.8" height="6.8" fill="#000"/>
<text x="108.8" y="632.3" text-anchor="start" font-size="10.9" fill="#111">5 mg</text>
<path d="M82.5 640.8H104.1" stroke="#000" stroke-width="1.25"/>
<polygon points="93.3,636.4 97.6,644.1 89,644.1" fill="#000"/>
<text x="108.8" y="644.7" text-anchor="start" font-size="10.9" fill="#111">10 mg</text>
<path d="M151 616H172.6" stroke="#000" stroke-width="1.25"/>
<circle cx="161.8" cy="616" r="3.45" fill="#fff" stroke="#000" stroke-width="1"/>
<text x="177.3" y="619.9" text-anchor="start" font-size="10.9" fill="#111">20 mg</text>
<path d="M151 628.4H172.6" stroke="#000" stroke-width="1.25"/>
<rect x="158.6" y="625.2" width="6.4" height="6.4" fill="#fff" stroke="#000" stroke-width="1"/>
<text x="177.3" y="632.3" text-anchor="start" font-size="10.9" fill="#111">40 mg</text>
<path d="M151 640.8H172.6" stroke="#000" stroke-width="1.25"/>
<polygon points="161.8,636.9 165.9,644.2 157.7,644.2" fill="#fff" stroke="#000" stroke-width="1" stroke-linejoin="miter"/>
<text x="177.3" y="644.7" text-anchor="start" font-size="10.9" fill="#111">60 mg</text>
<text x="397" y="603" text-anchor="start" font-size="22.5">f)</text>
<path d="M470 602.8V814M465 814H772.12" fill="none" stroke="#3c3c3c" stroke-width="1.4"/>
<path d="M465 602.85H470M465 638.4H470M465 673.95H470M465 709.5H470M465 745.05H470M465 780.6H470M507.59 814V821.4M545.38 814V821.4M620.96 814V821.4M772.12 814V821.4" fill="none" stroke="#3c3c3c" stroke-width="1.4"/>
<text x="461.5" y="606.55" text-anchor="end" font-size="10.5" fill="#222">2.5</text>
<text x="461.5" y="642.1" text-anchor="end" font-size="10.5" fill="#222">2</text>
<text x="461.5" y="677.65" text-anchor="end" font-size="10.5" fill="#222">1.5</text>
<text x="461.5" y="713.2" text-anchor="end" font-size="10.5" fill="#222">1</text>
<text x="461.5" y="748.75" text-anchor="end" font-size="10.5" fill="#222">0.5</text>
<text x="461.5" y="784.3" text-anchor="end" font-size="10.5" fill="#222">0</text>
<text x="461.5" y="819.85" text-anchor="end" font-size="10.5" fill="#222">-0.5</text>
<text x="507.59" y="835" text-anchor="middle" font-size="10.5" fill="#222">1</text>
<text x="545.38" y="835" text-anchor="middle" font-size="10.5" fill="#222">2</text>
<text x="620.96" y="835" text-anchor="middle" font-size="10.5" fill="#222">4</text>
<text x="772.12" y="835" text-anchor="middle" font-size="10.5" fill="#222">8</text>
<text x="621.06" y="860" text-anchor="middle" font-size="10.9" fill="#222">Day</text>
<text transform="translate(411.7 709) rotate(-90)" text-anchor="middle" font-size="10.9" fill="#222">Lymphocyte count</text>
<text transform="translate(430.5 709) rotate(-90)" text-anchor="middle" font-size="10.9" fill="#222">Difference from placebo (10<tspan font-size="6.5" dy="-4">3</tspan><tspan dy="4"> cells/&#956;L)</tspan></text>
<polyline points="507.59,772.07 545.38,758.56 620.96,772.78 772.12,767.8" fill="none" stroke="#000" stroke-width="1.25" stroke-linejoin="round"/>
<polyline points="507.59,772.07 545.38,755.72 620.96,750.74 772.12,760.69" fill="none" stroke="#000" stroke-width="1.25" stroke-linejoin="round"/>
<polyline points="507.59,764.96 545.38,747.89 620.96,737.23 772.12,727.27" fill="none" stroke="#000" stroke-width="1.25" stroke-linejoin="round"/>
<polyline points="507.59,779.18 545.38,736.52 620.96,704.52 772.12,669.68" fill="none" stroke="#000" stroke-width="1.25" stroke-linejoin="round"/>
<polyline points="507.59,757.85 545.38,723.01 620.96,677.5 772.12,654.75" fill="none" stroke="#000" stroke-width="1.25" stroke-linejoin="round"/>
<polyline points="507.59,766.38 545.38,715.19 620.96,661.86 772.12,636.98" fill="none" stroke="#000" stroke-width="1.25" stroke-linejoin="round"/>
<circle cx="507.59" cy="779.18" r="3.45" fill="#fff" stroke="#000" stroke-width="1"/>
<circle cx="545.38" cy="736.52" r="3.45" fill="#fff" stroke="#000" stroke-width="1"/>
<circle cx="620.96" cy="704.52" r="3.45" fill="#fff" stroke="#000" stroke-width="1"/>
<circle cx="772.12" cy="669.68" r="3.45" fill="#fff" stroke="#000" stroke-width="1"/>
<rect x="504.39" y="754.65" width="6.4" height="6.4" fill="#fff" stroke="#000" stroke-width="1"/>
<rect x="542.18" y="719.81" width="6.4" height="6.4" fill="#fff" stroke="#000" stroke-width="1"/>
<rect x="617.76" y="674.3" width="6.4" height="6.4" fill="#fff" stroke="#000" stroke-width="1"/>
<rect x="768.92" y="651.55" width="6.4" height="6.4" fill="#fff" stroke="#000" stroke-width="1"/>
<polygon points="507.59,760.56 511.89,768.26 503.29,768.26" fill="#000"/>
<polygon points="545.38,743.49 549.68,751.19 541.08,751.19" fill="#000"/>
<polygon points="620.96,732.83 625.26,740.53 616.66,740.53" fill="#000"/>
<polygon points="772.12,722.88 776.42,730.57 767.82,730.57" fill="#000"/>
<polygon points="507.59,762.48 511.69,769.78 503.49,769.78" fill="#fff" stroke="#000" stroke-width="1" stroke-linejoin="miter"/>
<polygon points="545.38,711.29 549.48,718.59 541.28,718.59" fill="#fff" stroke="#000" stroke-width="1" stroke-linejoin="miter"/>
<polygon points="620.96,657.96 625.06,665.26 616.86,665.26" fill="#fff" stroke="#000" stroke-width="1" stroke-linejoin="miter"/>
<polygon points="772.12,633.08 776.22,640.38 768.02,640.38" fill="#fff" stroke="#000" stroke-width="1" stroke-linejoin="miter"/>
<circle cx="507.59" cy="772.07" r="3.7" fill="#000"/>
<circle cx="545.38" cy="758.56" r="3.7" fill="#000"/>
<circle cx="620.96" cy="772.78" r="3.7" fill="#000"/>
<circle cx="772.12" cy="767.8" r="3.7" fill="#000"/>
<rect x="504.19" y="768.67" width="6.8" height="6.8" fill="#000"/>
<rect x="541.98" y="752.32" width="6.8" height="6.8" fill="#000"/>
<rect x="617.56" y="747.34" width="6.8" height="6.8" fill="#000"/>
<rect x="768.72" y="757.29" width="6.8" height="6.8" fill="#000"/>
<circle cx="507.3" cy="751" r="1.3" fill="#222"/>
<circle cx="543.45" cy="707.7" r="1.3" fill="#222"/>
<circle cx="547.35" cy="707.7" r="1.3" fill="#222"/>
<circle cx="552.05" cy="724.3" r="1.3" fill="#222"/>
<circle cx="555.95" cy="724.3" r="1.3" fill="#222"/>
<circle cx="543.45" cy="730.4" r="1.3" fill="#222"/>
<circle cx="547.35" cy="730.4" r="1.3" fill="#222"/>
<circle cx="543.45" cy="742.7" r="1.3" fill="#222"/>
<circle cx="547.35" cy="742.7" r="1.3" fill="#222"/>
<circle cx="538.8" cy="755.5" r="1.3" fill="#222"/>
<circle cx="545.4" cy="766.8" r="1.3" fill="#222"/>
<circle cx="619.05" cy="669.2" r="1.3" fill="#222"/>
<circle cx="622.95" cy="669.2" r="1.3" fill="#222"/>
<circle cx="619.05" cy="685.4" r="1.3" fill="#222"/>
<circle cx="622.95" cy="685.4" r="1.3" fill="#222"/>
<circle cx="619.05" cy="711.7" r="1.3" fill="#222"/>
<circle cx="622.95" cy="711.7" r="1.3" fill="#222"/>
<circle cx="619.05" cy="743.3" r="1.3" fill="#222"/>
<circle cx="622.95" cy="743.3" r="1.3" fill="#222"/>
<circle cx="619.05" cy="758.4" r="1.3" fill="#222"/>
<circle cx="622.95" cy="758.4" r="1.3" fill="#222"/>
<circle cx="770.15" cy="644.7" r="1.3" fill="#222"/>
<circle cx="774.05" cy="644.7" r="1.3" fill="#222"/>
<circle cx="770.15" cy="662" r="1.3" fill="#222"/>
<circle cx="774.05" cy="662" r="1.3" fill="#222"/>
<circle cx="770.15" cy="677.2" r="1.3" fill="#222"/>
<circle cx="774.05" cy="677.2" r="1.3" fill="#222"/>
<circle cx="770.15" cy="735.4" r="1.3" fill="#222"/>
<circle cx="774.05" cy="735.4" r="1.3" fill="#222"/>
<path d="M482.5 617.4H504.1" stroke="#000" stroke-width="1.25"/>
<circle cx="493.3" cy="617.4" r="3.7" fill="#000"/>
<text x="508.8" y="621.3" text-anchor="start" font-size="10.9" fill="#111">2.5 mg</text>
<path d="M482.5 629.8H504.1" stroke="#000" stroke-width="1.25"/>
<rect x="489.9" y="626.4" width="6.8" height="6.8" fill="#000"/>
<text x="508.8" y="633.7" text-anchor="start" font-size="10.9" fill="#111">5 mg</text>
<path d="M482.5 642.2H504.1" stroke="#000" stroke-width="1.25"/>
<polygon points="493.3,637.8 497.6,645.5 489,645.5" fill="#000"/>
<text x="508.8" y="646.1" text-anchor="start" font-size="10.9" fill="#111">10 mg</text>
<path d="M551 617.4H572.6" stroke="#000" stroke-width="1.25"/>
<circle cx="561.8" cy="617.4" r="3.45" fill="#fff" stroke="#000" stroke-width="1"/>
<text x="577.3" y="621.3" text-anchor="start" font-size="10.9" fill="#111">20 mg</text>
<path d="M551 629.8H572.6" stroke="#000" stroke-width="1.25"/>
<rect x="558.6" y="626.6" width="6.4" height="6.4" fill="#fff" stroke="#000" stroke-width="1"/>
<text x="577.3" y="633.7" text-anchor="start" font-size="10.9" fill="#111">40 mg</text>
<path d="M551 642.2H572.6" stroke="#000" stroke-width="1.25"/>
<polygon points="561.8,638.3 565.9,645.6 557.7,645.6" fill="#fff" stroke="#000" stroke-width="1" stroke-linejoin="miter"/>
<text x="577.3" y="646.1" text-anchor="start" font-size="10.9" fill="#111">60 mg</text>
</svg>
</body></html>
